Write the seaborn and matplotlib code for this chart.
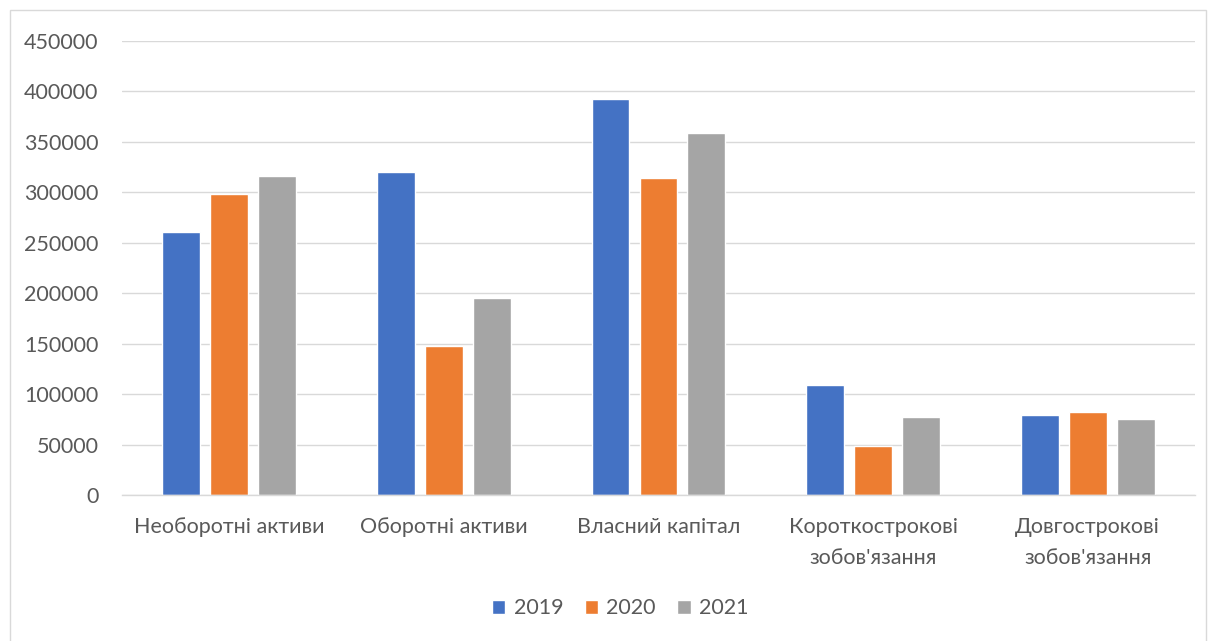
import matplotlib
matplotlib.use("Agg")
import matplotlib.pyplot as plt
import seaborn as sns
import pandas as pd
from matplotlib.patches import Rectangle

categories = ["Необоротні активи", "Оборотні активи", "Власний капітал",
              "Короткострокові\nзобов'язання", "Довгострокові\nзобов'язання"]
years = ["2019", "2020", "2021"]
v2019 = [260500, 320000, 393000, 108800, 79200]
v2020 = [298600, 147500, 314500, 48900, 82400]
v2021 = [316000, 195500, 359000, 77200, 75400]
yticks = [0, 50000, 100000, 150000, 200000, 250000, 300000, 350000, 400000, 450000]
colors = ["#4472C4", "#ED7D31", "#A5A5A5"]

rows = []
for yr, vals in zip(years, [v2019, v2020, v2021]):
    for c, v in zip(categories, vals):
        rows.append({"cat": c, "year": yr, "value": v})
df = pd.DataFrame(rows)

sns.set_theme(style="white")
plt.rcParams['font.family'] = ['Lato', 'DejaVu Sans']

fig = plt.figure(figsize=(12.16, 6.41), dpi=100)
ax = fig.add_axes([0.1003, 0.2278, 0.8824, 0.7082])
sns.barplot(data=df, x="cat", y="value", hue="year", palette=colors,
            width=0.67, gap=0.21, ax=ax, legend=True, saturation=1,
            errorbar=None)

ax.set_ylim(0, 450000)
ax.set_xlim(-0.5, 4.5)
ax.set_yticks(yticks)
ax.set_yticklabels([str(t) for t in yticks])
ax.yaxis.grid(True, color="#D9D9D9", lw=1)
ax.set_axisbelow(True)
for s in ["top", "right", "left"]:
    ax.spines[s].set_visible(False)
ax.spines["bottom"].set_color("#D9D9D9")
ax.spines["bottom"].set_linewidth(1)
ax.tick_params(axis="both", length=0, labelsize=15.5, colors="#595959")
ax.tick_params(axis="y", pad=17)
ax.tick_params(axis="x", pad=16)
ax.set_xlabel("")
ax.set_ylabel("")
for lbl in ax.get_xticklabels():
    lbl.set_linespacing(1.65)

handles, labels = ax.get_legend_handles_labels()
ax.legend_.remove()
fig.legend(handles, labels, loc="center", bbox_to_anchor=(0.51, 0.051),
           ncol=3, frameon=False, fontsize=15.5, handlelength=0.62,
           handleheight=0.62, handletextpad=0.38, columnspacing=1.0,
           labelcolor="#595959")

fig.patches.append(Rectangle((10/1216, -0.01), 1196/1216, 1 - 10/641 + 0.01,
                             transform=fig.transFigure, fill=False,
                             edgecolor="#D9D9D9", lw=1))
fig.savefig("out.png", dpi=100)
